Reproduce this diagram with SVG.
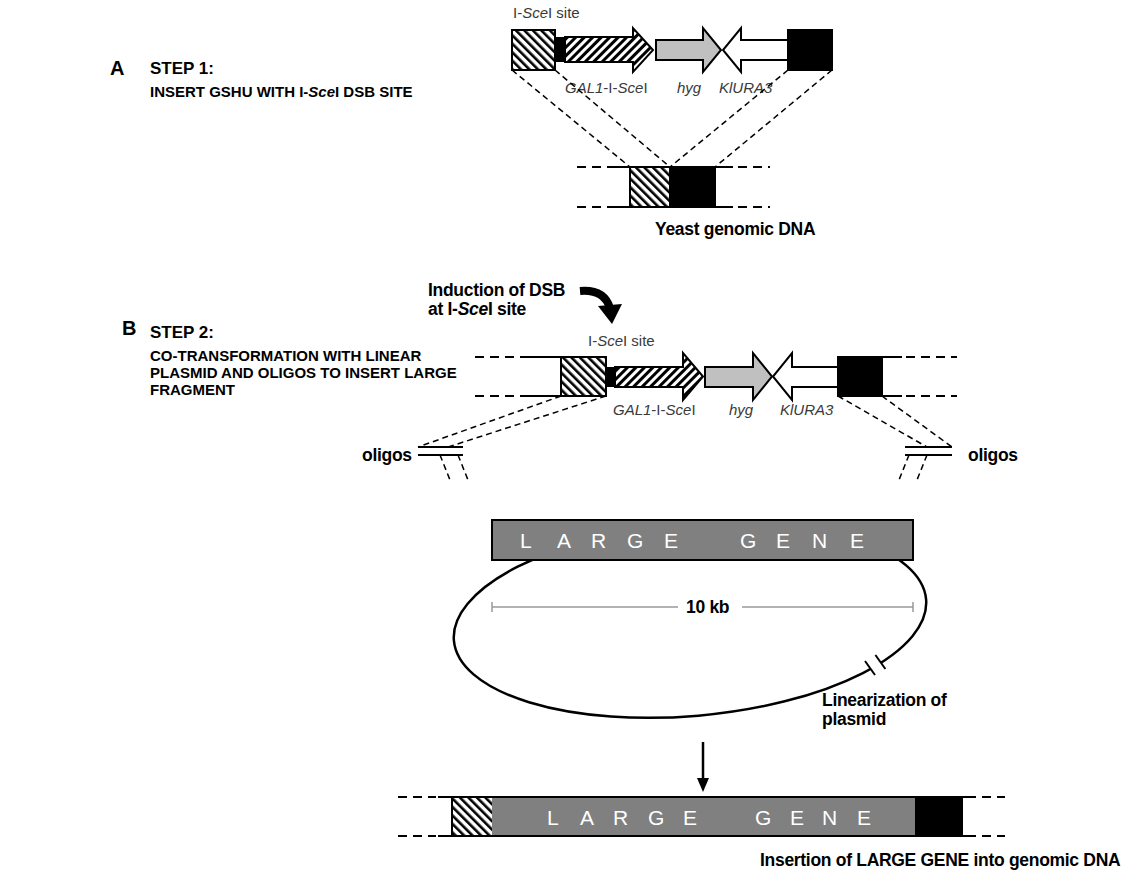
<svg xmlns="http://www.w3.org/2000/svg" width="1131" height="875" viewBox="0 0 1131 875">
<style>
text{font-family:"Liberation Sans",Arial,sans-serif;}
.b{font-weight:bold;fill:#000;}
.lab{font-weight:bold;fill:#000;font-size:17.5px;letter-spacing:-0.3px;}
.hd{font-weight:bold;fill:#000;font-size:15px;}
.lbl{font-size:15px;fill:#3a3a3a;}
.i{font-style:italic;}
.ol{stroke:#000;stroke-width:2;}
.dash{stroke:#000;stroke-width:1.5;stroke-dasharray:6 4;fill:none;}
.ldash{stroke:#000;stroke-width:2;stroke-dasharray:9 6;fill:none;}
.solid{stroke:#000;stroke-width:2;fill:none;}
.gene{font-size:21px;fill:#fff;}
</style>
<defs>
<pattern id="hb" patternUnits="userSpaceOnUse" width="6" height="6" patternTransform="rotate(-45)"><rect width="6" height="6" fill="#fff"/><rect width="2.6" height="6" fill="#000"/></pattern>
<pattern id="hf" patternUnits="userSpaceOnUse" width="6" height="6" patternTransform="rotate(45)"><rect width="6" height="6" fill="#fff"/><rect width="3" height="6" fill="#000"/></pattern>
</defs>

<g id="titleA">
<text class="b" x="110" y="75" font-size="20">A</text>
<text class="b" x="150" y="74" font-size="17">STEP 1:</text>
<text class="hd" x="150" y="97">INSERT GSHU WITH I-<tspan class="i">Sce</tspan>I DSB SITE</text>
</g>

<g id="constructA">
<text class="lbl" x="513" y="18">I-<tspan class="i">Sce</tspan>I site</text>
<rect x="512" y="30" width="43" height="40" fill="url(#hb)" class="ol"/>
<rect x="555" y="37" width="10" height="25" fill="#000"/>
<polygon points="565,37 633,37 633,28 653,50 633,72 633,62 565,62" fill="url(#hf)" class="ol"/>
<polygon points="656,40 703,40 703,28 721,50 703,72 703,60 656,60" fill="#c0c0c0" class="ol"/>
<polygon points="788,40 741,40 741,28 723,50 741,72 741,60 788,60" fill="#fff" class="ol"/>
<rect x="788" y="30" width="44" height="40" fill="#000" class="ol"/>
<text class="lbl" x="565" y="93"><tspan class="i">GAL1</tspan>-I-<tspan class="i">Sce</tspan>I</text>
<text class="lbl i" x="677" y="93">hyg</text>
<text class="lbl i" x="719" y="93">KlURA3</text>
</g>

<g id="genomicA">
<line class="ldash" x1="577" y1="167" x2="610" y2="167"/>
<line class="solid" x1="610" y1="167" x2="630" y2="167"/>
<line class="solid" x1="715" y1="167" x2="733" y2="167"/>
<line class="ldash" x1="738" y1="167" x2="770" y2="167"/>
<line class="ldash" x1="577" y1="207" x2="610" y2="207"/>
<line class="solid" x1="610" y1="207" x2="630" y2="207"/>
<line class="solid" x1="715" y1="207" x2="733" y2="207"/>
<line class="ldash" x1="738" y1="207" x2="770" y2="207"/>
<rect x="630" y="167" width="40" height="40" fill="url(#hb)" class="ol"/>
<rect x="670" y="167" width="45" height="40" fill="#000" class="ol"/>
<text class="lab" x="655" y="235">Yeast genomic DNA</text>
</g>

<g id="induction">
<text class="lab" x="428" y="296">Induction of DSB</text>
<text class="lab" x="428" y="315">at I-<tspan class="i">Sce</tspan>I site</text>
</g>

<g id="titleB">
<text class="b" x="122" y="335" font-size="20">B</text>
<text class="b" x="150" y="338" font-size="17">STEP 2:</text>
<text class="hd" x="150" y="361">CO-TRANSFORMATION WITH LINEAR</text>
<text class="hd" x="150" y="378">PLASMID AND OLIGOS TO INSERT LARGE</text>
<text class="hd" x="150" y="395">FRAGMENT</text>
</g>

<g id="constructB">
<text class="lbl" x="588" y="346">I-<tspan class="i">Sce</tspan>I site</text>
<line class="ldash" x1="475" y1="357" x2="525" y2="357"/>
<line class="solid" x1="525" y1="357" x2="561" y2="357"/>
<line class="ldash" x1="475" y1="396" x2="525" y2="396"/>
<line class="solid" x1="525" y1="396" x2="561" y2="396"/>
<line class="solid" x1="882" y1="357" x2="902" y2="357"/>
<line class="ldash" x1="906" y1="357" x2="957" y2="357"/>
<line class="solid" x1="882" y1="396" x2="902" y2="396"/>
<line class="ldash" x1="906" y1="396" x2="957" y2="396"/>
<rect x="561" y="357" width="45" height="39" fill="url(#hb)" class="ol"/>
<rect x="606" y="367" width="9" height="20" fill="#000"/>
<polygon points="615,367 683,367 683,353 703,376.5 683,400 683,387 615,387" fill="url(#hf)" class="ol"/>
<polygon points="705,367 753,367 753,353 772,376.5 753,400 753,387 705,387" fill="#c0c0c0" class="ol"/>
<polygon points="838,367 792,367 792,353 773,376.5 792,400 792,387 838,387" fill="#fff" class="ol"/>
<rect x="838" y="357" width="44" height="39" fill="#000" class="ol"/>
<text class="lbl" x="613" y="415"><tspan class="i">GAL1</tspan>-I-<tspan class="i">Sce</tspan>I</text>
<text class="lbl i" x="729" y="415">hyg</text>
<text class="lbl i" x="780" y="415">KlURA3</text>
</g>

<g id="oligosLeft">
<line class="solid" x1="418" y1="447" x2="463" y2="447"/>
<line class="solid" x1="418" y1="455" x2="463" y2="455"/>
<text class="lab" x="362" y="461">oligos</text>
</g>

<g id="oligosRight">
<line class="solid" x1="905" y1="447" x2="952" y2="447"/>
<line class="solid" x1="905" y1="455" x2="952" y2="455"/>
<text class="lab" x="968" y="461">oligos</text>
</g>

<g id="plasmid">
<ellipse cx="690" cy="620" rx="237" ry="96" transform="rotate(-5 690 620)" fill="none" stroke="#000" stroke-width="2.5"/>
<line x1="870" y1="668" x2="880.4" y2="662" stroke="#fff" stroke-width="7"/>
<line x1="865" y1="661" x2="875" y2="675" stroke="#000" stroke-width="2"/>
<line x1="875.4" y1="655" x2="885.4" y2="669" stroke="#000" stroke-width="2"/>
<rect x="492" y="520" width="421" height="40" fill="#808080" stroke="#000" stroke-width="2"/>
<text class="gene" y="548" x="520 557 591 627 664 700 740 776 812 850">LARGE GENE</text>
<line x1="492" y1="607" x2="678" y2="607" stroke="#999" stroke-width="1.5"/>
<line x1="742" y1="607" x2="913" y2="607" stroke="#999" stroke-width="1.5"/>
<line x1="492" y1="602" x2="492" y2="612" stroke="#999" stroke-width="1.5"/>
<line x1="913" y1="602" x2="913" y2="612" stroke="#999" stroke-width="1.5"/>
<text class="lab" x="686" y="613">10 kb</text>
<text class="lab" x="822" y="706">Linearization of</text>
<text class="lab" x="822" y="725">plasmid</text>
</g>

<g id="result">
<line class="ldash" x1="398" y1="797" x2="436" y2="797"/>
<line class="solid" x1="438" y1="797" x2="452" y2="797"/>
<line class="ldash" x1="398" y1="836" x2="436" y2="836"/>
<line class="solid" x1="438" y1="836" x2="452" y2="836"/>
<line class="solid" x1="962" y1="797" x2="976" y2="797"/>
<line class="ldash" x1="982" y1="797" x2="1005" y2="797"/>
<line class="solid" x1="962" y1="836" x2="976" y2="836"/>
<line class="ldash" x1="982" y1="836" x2="1005" y2="836"/>
<rect x="452" y="797" width="40" height="39" fill="url(#hb)"/>
<rect x="492" y="797" width="423" height="39" fill="#808080"/>
<rect x="915" y="797" width="47" height="39" fill="#000"/>
<rect x="452" y="797" width="510" height="39" fill="none" stroke="#000" stroke-width="2"/>
<text class="gene" y="825" x="547 580 613 648 683 720 755 790 822 857">LARGE GENE</text>
<text class="lab" x="760" y="866">Insertion of LARGE GENE into genomic DNA</text>
</g>

<g id="connectors">
<line class="dash" x1="512" y1="70" x2="630" y2="167"/>
<line class="dash" x1="555" y1="70" x2="670" y2="167"/>
<line class="dash" x1="788" y1="70" x2="670" y2="167"/>
<line class="dash" x1="832" y1="70" x2="715" y2="167"/>
<path d="M580,291 Q604,289 610,308" fill="none" stroke="#000" stroke-width="8"/>
<polygon points="598,306 622,304 612,324" fill="#000"/>
<line class="dash" x1="561" y1="396" x2="418" y2="447"/>
<line class="dash" x1="606" y1="396" x2="448" y2="447"/>
<line class="dash" x1="838" y1="396" x2="927" y2="447"/>
<line class="dash" x1="882" y1="396" x2="952" y2="447"/>
<line class="dash" x1="440" y1="455" x2="450" y2="480"/>
<line class="dash" x1="458" y1="455" x2="468" y2="480"/>
<line class="dash" x1="927" y1="455" x2="917" y2="480"/>
<line class="dash" x1="909" y1="455" x2="899" y2="480"/>
<line x1="703" y1="742" x2="703" y2="780" stroke="#000" stroke-width="2.5"/>
<polygon points="697,778 709,778 703,792" fill="#000"/>
</g>
</svg>
